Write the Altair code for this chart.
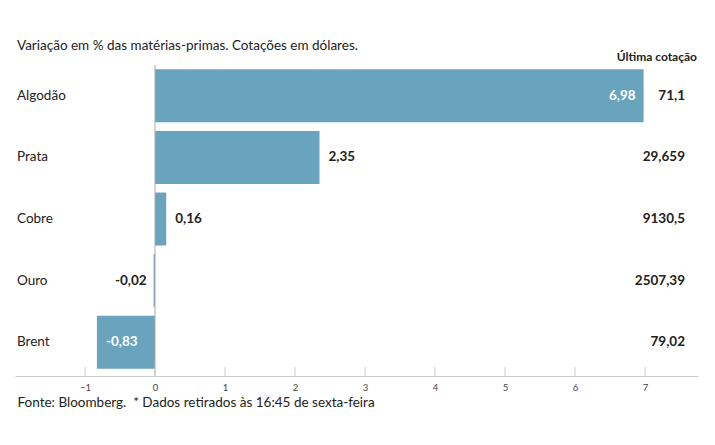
import altair as alt
import pandas as pd

categories = ["Algodão", "Prata", "Cobre", "Ouro", "Brent"]
changes = [6.98, 2.35, 0.16, -0.02, -0.83]
quotes = ["71,1", "29,659", "9130,5", "2507,39", "79,02"]
tick_values = [-1, 0, 1, 2, 3, 4, 5, 6, 7]

FONT = "Lato"
BAR = "#6aa3be"
TXT = "#222222"
W, H = 683, 308

df = pd.DataFrame({
    "cat": categories,
    "v": changes,
    "quote": quotes,
    "label": [f"{v:.2f}".replace(".", ",") for v in changes],
})
ticks_df = pd.DataFrame({"t": tick_values})

xscale = alt.Scale(domain=[-2, 7.757], nice=False, zero=False)
yscale = alt.Scale(domain=categories, paddingInner=0, paddingOuter=0)

base = alt.Chart(df)

bars = base.mark_bar(height={"band": 0.86}, color=BAR).encode(
    x=alt.X(
        "v:Q",
        scale=xscale,
        axis=alt.Axis(
            values=tick_values,
            format="d",
            tickSize=0,
            grid=False,
            domainColor="#cccccc",
            offset=3,
            labelPadding=6,
            labelFontSize=9.5,
            labelColor="#444444",
            labelFont=FONT,
            title="Fonte: Bloomberg.\u00a0 * Dados retirados às 16:45 de sexta-feira",
            titleFont=FONT,
            titleFontSize=13.5,
            titleFontWeight="normal",
            titleColor=TXT,
            titleAlign="left",
            titleBaseline="alphabetic",
            titleAngle=0,
            titleX=2,
            titleY=30,
        ),
    ),
    y=alt.Y(
        "cat:N",
        sort=categories,
        scale=yscale,
        axis=alt.Axis(
            orient="right",
            labels=False,
            ticks=False,
            domain=False,
            grid=True,
            gridColor="#cccccc",
            bandPosition=0,
            title=None,
        ),
    ),
)

zero_rule = alt.Chart(pd.DataFrame({"z": [0]})).mark_rule(color="#aaaaaa", strokeWidth=1).encode(
    x=alt.X("z:Q", scale=xscale),
    y=alt.value(0),
    y2=alt.value(H + 3),
)

tick_rules = alt.Chart(ticks_df).mark_rule(color="#cccccc", strokeWidth=1).encode(
    x=alt.X("t:Q", scale=xscale),
    y=alt.value(H - 6),
    y2=alt.value(H + 3),
)

def vlabel(cond, align, dx, color):
    return base.transform_filter(cond).mark_text(
        align=align, baseline="middle", dx=dx, font=FONT, fontSize=13.5,
        fontWeight="bold", color=color,
    ).encode(
        x=alt.X("v:Q", scale=xscale),
        y=alt.Y("cat:N", sort=categories, scale=yscale, axis=None),
        text="label:N",
    )

inside = "(datum.v > 5 || datum.v < -0.5)"
lab_in_pos = vlabel(f"{inside} && datum.v > 0", "right", -8, "white")
lab_in_neg = vlabel(f"{inside} && datum.v < 0", "left", 9, "white")
lab_out_pos = vlabel(f"!{inside} && datum.v >= 0", "left", 9, TXT)
lab_out_neg = vlabel(f"!{inside} && datum.v < 0", "right", -7, TXT)

cat_labels = base.mark_text(
    align="left", baseline="middle", font=FONT, fontSize=13.5, color=TXT
).encode(
    x=alt.value(2),
    y=alt.Y("cat:N", sort=categories, scale=yscale, axis=None),
    text="cat:N",
)

quote_labels = base.mark_text(
    align="right", baseline="middle", font=FONT, fontSize=13.5, fontWeight="bold", color=TXT
).encode(
    x=alt.value(W - 13),
    y=alt.Y("cat:N", sort=categories, scale=yscale, axis=None),
    text="quote:N",
)

quote_header = alt.Chart(pd.DataFrame({"h": ["Última cotação"]})).mark_text(
    align="right", baseline="alphabetic", font=FONT, fontSize=12, fontWeight="bold", color=TXT
).encode(
    x=alt.value(W - 1),
    y=alt.value(-4),
    text="h:N",
)

chart = alt.layer(
    bars, zero_rule, tick_rules, lab_in_pos, lab_in_neg, lab_out_pos, lab_out_neg,
    cat_labels, quote_labels, quote_header,
).properties(
    width=W,
    height=H,
    background="white",
    title=alt.Title(
        "Variação em % das matérias-primas. Cotações em dólares.",
        anchor="start",
        frame="group",
        font=FONT,
        fontSize=13.5,
        fontWeight="normal",
        color=TXT,
        dx=2,
        offset=-1,
    ),
    autosize=alt.AutoSizeParams(type="none"),
    padding={"left": 7, "top": 57, "right": 8, "bottom": 55},
).configure_view(stroke=None)

chart.save("out.html", embed_options={"renderer": "svg", "actions": False})
